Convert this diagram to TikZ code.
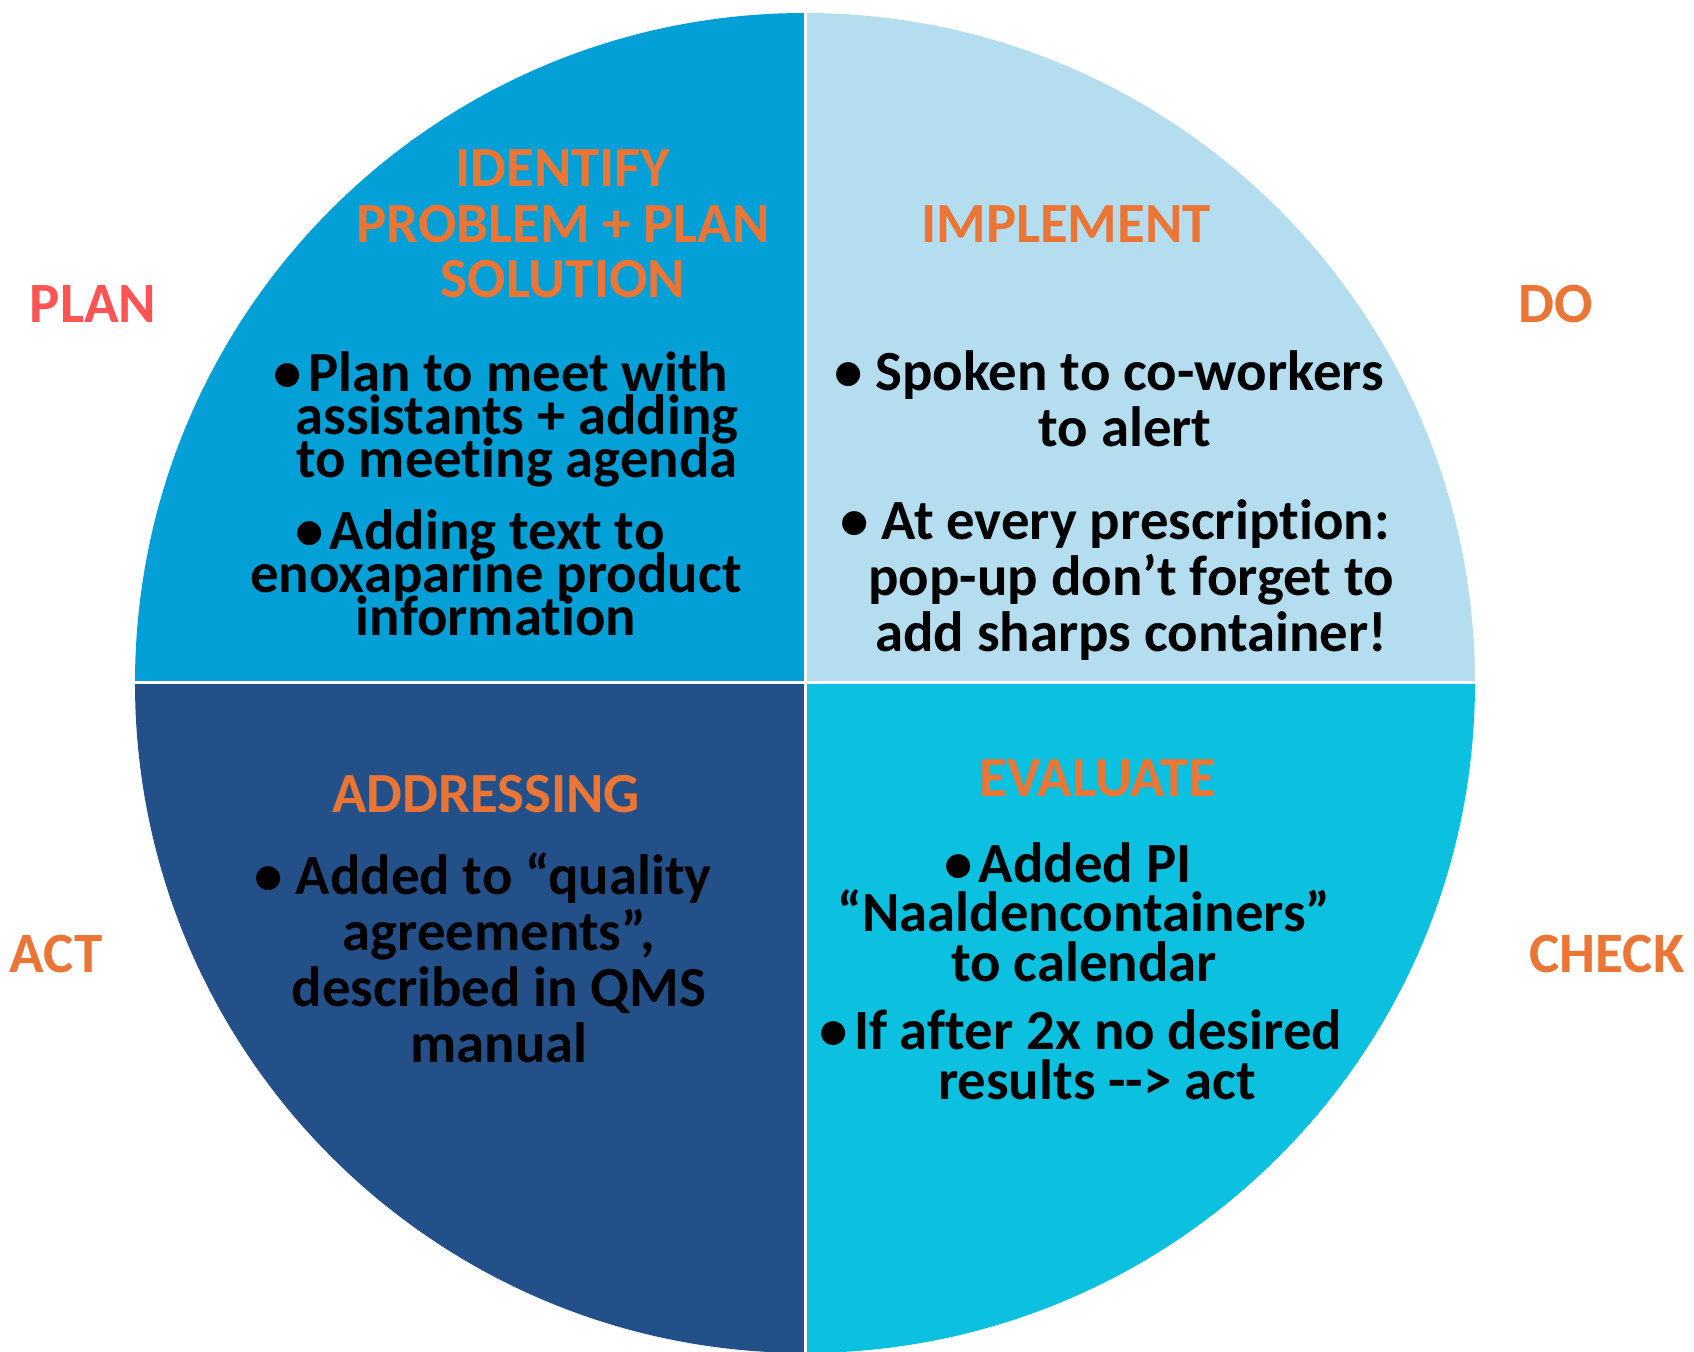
\documentclass[tikz,border=0pt]{standalone}
\usepackage{fontspec}
\newfontfamily\cardfont{Carlito}[Ligatures=NoCommon]
\usepackage{tikz}
\definecolor{planblue}{RGB}{2,160,214}
\definecolor{doblue}{RGB}{180,222,240}
\definecolor{actblue}{RGB}{36,80,138}
\definecolor{checkblue}{RGB}{12,192,223}
\definecolor{phaseorange}{RGB}{235,117,52}
\definecolor{planred}{RGB}{255,84,84}
% lines in the wheel sit closer than their letters are tall
\setlength{\lineskiplimit}{-100pt}
\newcommand{\bul}{\textbullet\hspace{3pt}}
% bullet lines hang a little to the left of the rest
\newcommand{\hang}{\rule{16pt}{0pt}}

\begin{document}
\begin{tikzpicture}[x=0.5pt,y=-0.5pt, every node/.style={inner sep=0pt},
  head/.style={text=phaseorange,align=center,anchor=base,
               font=\cardfont\bfseries\fontsize{28.4}{27.75}\selectfont},
  body/.style={align=center,anchor=base,
               font=\cardfont\bfseries\fontsize{28.4}{28}\selectfont},
  tight/.style={body,font=\cardfont\bfseries\fontsize{28.4}{21.5}\selectfont},
  snug/.style={body,font=\cardfont\bfseries\fontsize{28.4}{25}\selectfont},
  phase/.style={anchor=base,font=\cardfont\bfseries\fontsize{28.5}{30}\selectfont}]
\useasboundingbox (0,0) rectangle (1694,1352);

% the wheel: four quarters and the white cross between them
\coordinate (c) at (805,683);
\foreach \col/\a in {planblue/180,doblue/270,checkblue/0,actblue/90}
  \fill[\col] (c) -- ++(\a:670) arc[start angle=\a,delta angle=90,radius=670] -- cycle;
\draw[white,line width=1.5pt] (c) -- ++(0,-670) (c) -- ++(0,670)
  (c) -- ++(-670,0) (c) -- ++(670,0);

% plan (nodes sit on the baseline of their last line)
\node[head] (planhead) at (563,298) {IDENTIFY\\PROBLEM + PLAN\\SOLUTION};
\node[tight] (plannote1) at (517,478) {\bul Plan to meet with\hang\\assistants + adding\\to meeting agenda};
\node[tight] (plannote2) at (496,636) {\bul Adding text to\hang\\enoxaparine product\\information};

% do
\node[head] (dohead) at (1066,243) {IMPLEMENT};
\node[body] (donote1) at (1125,447) {\textbullet\ Spoken to co-workers\hang\\to alert};
\node[body] (donote2) at (1131,652) {\textbullet\ At every prescription:\hang\\pop-up don’t forget to\\add sharps container!};

% check
\node[head] (checkhead) at (1098,797) {EVALUATE};
\node[snug] (checknote1) at (1084,982) {\bul Added PI\hang\\“Naaldencontainers”\\to calendar};
\node[snug] (checknote2) at (1097,1100) {\bul If after 2x no desired\hang\\results --> act};

% act
\node[head] (acthead) at (486,813) {ADDRESSING};
\node[body] (actnote) at (499,1062) {\textbullet\ Added to “quality\hang\\agreements”,\\described in QMS\\manual};

% phase names round the wheel
\node[phase,text=planred] (plan) at (93,323) {PLAN};
\node[phase,text=phaseorange] (do) at (1556,323) {DO};
\node[phase,text=phaseorange] (act) at (56,972) {ACT};
\node[phase,text=phaseorange] (check) at (1607,972) {CHECK};
\end{tikzpicture}
\end{document}
